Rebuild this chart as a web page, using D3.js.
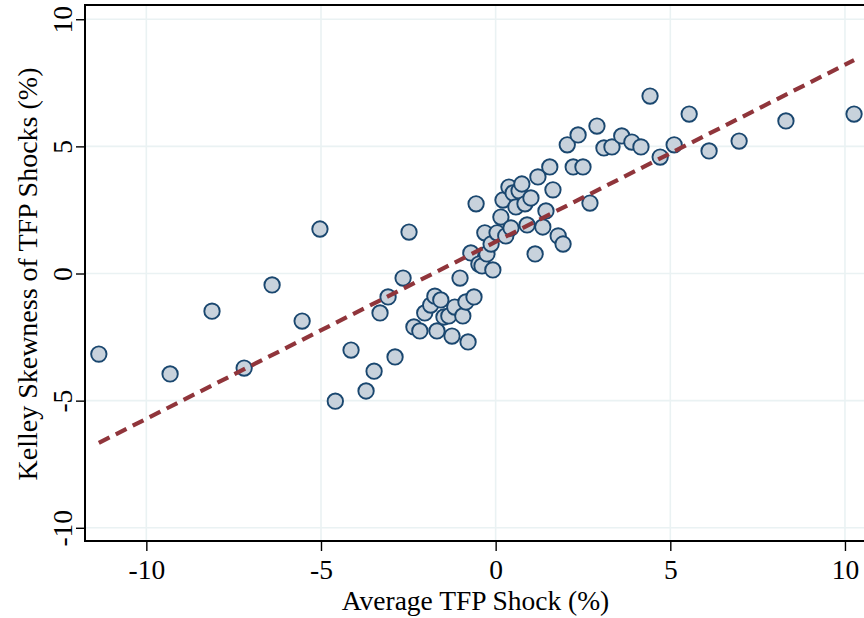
<!DOCTYPE html>
<html>
<head>
<meta charset="utf-8">
<script src="https://cdn.jsdelivr.net/npm/d3@7"></script>
<style>
    html, body { margin: 0; padding: 0; background: #ffffff; }
    svg text { font-family: "Liberation Serif", "Times New Roman", serif; fill: #000; }
</style>
</head>
<body>
<div id="program"></div>
<script>
// chart data
let shockX = [
    -11.36, -9.32, -8.12, -7.2, -6.4, -5.54, -5.03, -4.59, -4.14, -3.48,
    -3.71, -3.31, -3.08, -2.88, -2.65, -2.48, -2.34, -2.17, -2.03, -1.86,
    -1.74, -1.68, -1.57, -1.48, -1.34, -1.25, -1.17, -1.02, -0.94, -0.85,
    -0.79, -0.71, -0.62, -0.56, -0.48, -0.39, -0.31, -0.25, -0.13, -0.08,
    0.04, 0.15, 0.21, 0.29, 0.38, 0.44, 0.5, 0.58, 0.67, 0.75,
    0.84, 0.9, 1.01, 1.13, 1.21, 1.35, 1.44, 1.55, 1.64, 1.79,
    1.93, 2.05, 2.22, 2.36, 2.5, 2.7, 2.9, 3.1, 3.33, 3.61,
    3.9, 4.16, 4.42, 4.71, 5.11, 5.54, 6.11, 6.97, 8.31, 10.26
];
let skewY = [
    -3.17, -3.95, -1.48, -3.72, -0.45, -1.87, 1.75, -5.02, -3.01, -3.84,
    -4.62, -1.55, -0.92, -3.28, -0.18, 1.63, -2.1, -2.26, -1.55, -1.24,
    -0.89, -2.26, -1.04, -1.71, -1.67, -2.46, -1.32, -0.18, -1.67, -1.12,
    -2.69, 0.81, -0.92, 2.74, 0.37, 0.3, 1.6, 0.77, 1.16, 0.14,
    1.6, 2.22, 2.89, 1.48, 3.4, 1.79, 3.17, 2.62, 3.25, 3.52,
    2.74, 1.91, 2.97, 0.77, 3.8, 1.83, 2.46, 4.19, 3.29, 1.48,
    1.16, 5.06, 4.19, 5.45, 4.19, 2.77, 5.8, 4.94, 4.98, 5.41,
    5.17, 4.98, 6.98, 4.58, 5.06, 6.27, 4.82, 5.21, 6.0, 6.27
];

// fitted line end points
let fitX = [-11.36, 10.26];
let fitY = [-6.66, 8.39];

let tickValues = [-10, -5, 0, 5, 10];
let xTitle = "Average TFP Shock (%)";
let yTitle = "Kelley Skewness of TFP Shocks (%)";

let width = 864, height = 618;
let plot = { left : 85, right : 864, top : 5, bottom : 541 };

let svg = d3.select("#program")
            .append("svg")
            .attr("width", width)
            .attr("height", height);

let xScale = d3.scaleLinear()
               .domain([-11.756, 10.545])
               .range([plot.left, plot.right]);

let yScale = d3.scaleLinear()
               .domain([-10.52, 10.56])
               .range([plot.bottom, plot.top]);

// grid lines
svg.append("g")
   .selectAll("line.vgrid")
   .data(tickValues)
   .join("line")
   .attr("x1", d => xScale(d))
   .attr("x2", d => xScale(d))
   .attr("y1", plot.top)
   .attr("y2", plot.bottom)
   .attr("stroke", "#eaf2f3")
   .attr("stroke-width", 1.6);

svg.append("g")
   .selectAll("line.hgrid")
   .data(tickValues)
   .join("line")
   .attr("x1", plot.left)
   .attr("x2", plot.right)
   .attr("y1", d => yScale(d))
   .attr("y2", d => yScale(d))
   .attr("stroke", "#eaf2f3")
   .attr("stroke-width", 1.6);

// axes (plain hyphen for negatives, like the original)
let xAxis = svg.append("g")
               .attr("transform", `translate(0,${plot.bottom})`)
               .call(d3.axisBottom(xScale)
                       .tickValues(tickValues)
                       .tickSize(10)
                       .tickFormat(d => String(d)));

let yAxis = svg.append("g")
               .attr("transform", `translate(${plot.left},0)`)
               .call(d3.axisLeft(yScale)
                       .tickValues(tickValues)
                       .tickSize(9)
                       .tickFormat(d => String(d)));

[xAxis, yAxis].forEach(ax => {
    ax.select(".domain").remove();
    ax.selectAll(".tick line").attr("stroke", "#000").attr("stroke-width", 1.4);
    ax.selectAll(".tick text")
      .attr("font-family", "Liberation Serif, Times New Roman, serif")
      .attr("font-size", 27.5)
      .attr("fill", "#000");
});

xAxis.selectAll(".tick text")
     .attr("dy", null)
     .attr("y", 38);

yAxis.selectAll(".tick text")
     .attr("x", null)
     .attr("dy", null)
     .attr("text-anchor", "middle")
     .attr("transform", "translate(-13,0) rotate(-90)");

// frame lines: left, bottom, top
svg.append("path")
   .attr("d", `M${plot.right},${plot.top}H${plot.left}V${plot.bottom}H${plot.right}`)
   .attr("fill", "none")
   .attr("stroke", "#000")
   .attr("stroke-width", 2);

// points
svg.append("g")
   .selectAll("circle")
   .data(shockX.map((x, i) => ({ x : x, y : skewY[i] })))
   .join("circle")
   .attr("cx", d => xScale(d.x))
   .attr("cy", d => yScale(d.y))
   .attr("r", 7.7)
   .attr("fill", "#c8d2dc")
   .attr("stroke", "#1a476f")
   .attr("stroke-width", 1.9);

// fitted line
let line = d3.line()
             .x(d => xScale(d[0]))
             .y(d => yScale(d[1]));

svg.append("path")
   .attr("d", line(fitX.map((x, i) => [x, fitY[i]])))
   .attr("fill", "none")
   .attr("stroke", "#90353b")
   .attr("stroke-width", 4.2)
   .attr("stroke-dasharray", "12,7");

// axis titles
svg.append("text")
   .attr("x", 475.5)
   .attr("y", 610)
   .attr("text-anchor", "middle")
   .attr("font-size", 27.5)
   .text(xTitle);

svg.append("text")
   .attr("transform", "translate(36.5,274) rotate(-90)")
   .attr("text-anchor", "middle")
   .attr("font-size", 28)
   .text(yTitle);
</script>
</body>
</html>
